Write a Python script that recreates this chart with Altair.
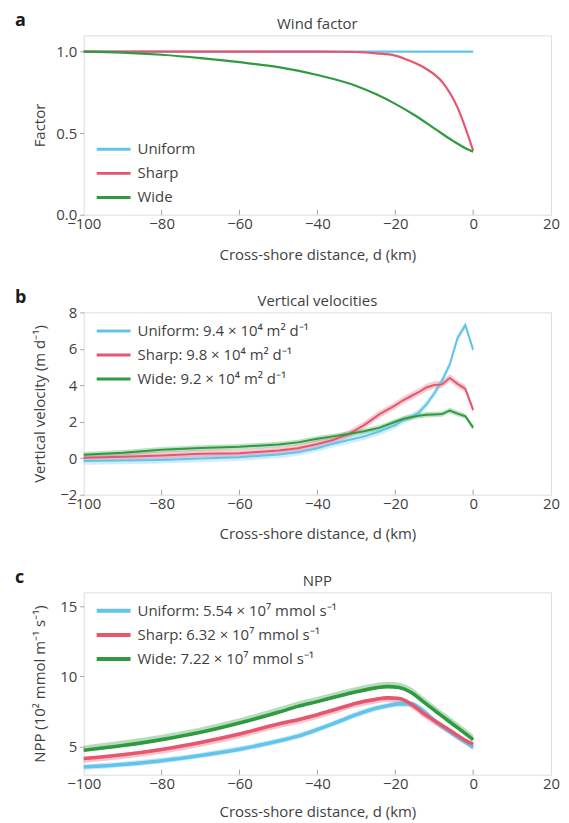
import altair as alt
import pandas as pd

SERIES = ["Uniform", "Sharp", "Wide"]
COLORS = ["#62c4ea", "#e5566f", "#2f9a40"]
FONT = "Open Sans"
TXT = "#3f3f3f"
FRAME = "#a3a3a3"

X_TICKS = [-100, -80, -60, -40, -20, 0, 20]
X_INNER_TICKS = [-80, -60, -40, -20, 0]
X_TITLE = "Cross-shore distance, d (km)"

# ---------- panel a : wind factor ----------
A_X_UNIFORM = [-100, -50, 0]
A_Y_UNIFORM = [1.0, 1.0, 1.0]
A_X_SHARP = [-100, -60, -40, -30, -25, -20, -17, -12.4, -7.8, -4, 0]
A_Y_SHARP = [1.0, 1.0, 1.0, 0.998, 0.99, 0.976, 0.951, 0.90, 0.81, 0.657, 0.393]
A_X_WIDE = [-100, -90, -80, -70, -60, -50, -40, -30, -25, -20, -15, -10, -5, -2, 0]
A_Y_WIDE = [1.0, 0.994, 0.981, 0.961, 0.936, 0.905, 0.857, 0.79, 0.74, 0.68, 0.61, 0.53, 0.45, 0.408, 0.386]
A_LABELS = ["Uniform", "Sharp", "Wide"]

# ---------- panel b : vertical velocities ----------
B_X = [-100, -90, -80, -70, -60, -50, -45, -40, -36, -32, -28, -24, -20, -18, -16, -14, -12, -10, -8, -6, -4, -2, 0]
B_UNIFORM = [-0.15, -0.13, -0.09, -0.02, 0.06, 0.2, 0.33, 0.55, 0.8, 1.0, 1.2, 1.48, 1.82, 2.08, 2.25, 2.5, 2.95, 3.55, 4.25, 5.15, 6.6, 7.3, 5.95]
B_SHARP = [0.03, 0.08, 0.15, 0.25, 0.28, 0.42, 0.55, 0.78, 1.0, 1.32, 1.82, 2.42, 2.9, 3.18, 3.4, 3.62, 3.88, 4.02, 4.05, 4.4, 4.08, 3.8, 2.65]
B_WIDE = [0.19, 0.3, 0.46, 0.56, 0.63, 0.75, 0.87, 1.07, 1.2, 1.33, 1.48, 1.68, 2.0, 2.15, 2.25, 2.33, 2.38, 2.4, 2.42, 2.62, 2.45, 2.3, 1.68]
B_BAND = {"Uniform": 0.2, "Sharp": 0.2, "Wide": 0.15}
B_LABELS = ["Uniform: 9.4 × 10⁴ m² d⁻¹", "Sharp: 9.8 × 10⁴ m² d⁻¹", "Wide: 9.2 × 10⁴ m² d⁻¹"]

# ---------- panel c : NPP ----------
C_X = [-100, -90, -80, -70, -60, -50, -45, -40, -35, -30, -25, -22, -19, -16, -13, -10, -7, -4, -2, 0]
C_UNIFORM = [3.55, 3.73, 4.0, 4.37, 4.82, 5.4, 5.75, 6.22, 6.74, 7.28, 7.73, 7.92, 8.05, 8.05, 7.6, 6.88, 6.25, 5.69, 5.33, 4.93]
C_SHARP = [4.15, 4.42, 4.8, 5.3, 5.9, 6.62, 6.92, 7.28, 7.68, 8.1, 8.37, 8.48, 8.43, 8.05, 7.42, 6.87, 6.34, 5.8, 5.45, 5.17]
C_WIDE = [4.74, 5.08, 5.5, 6.02, 6.68, 7.45, 7.87, 8.21, 8.57, 8.91, 9.19, 9.28, 9.21, 8.88, 8.25, 7.6, 6.97, 6.35, 5.93, 5.5]
C_BAND_LO = {"Uniform": 0.2, "Sharp": 0.3, "Wide": 0.1}
C_BAND_HI = {"Uniform": 0.2, "Sharp": 0.12, "Wide": 0.35}
C_LABELS = ["Uniform: 5.54 × 10⁷ mmol s⁻¹", "Sharp: 6.32 × 10⁷ mmol s⁻¹", "Wide: 7.22 × 10⁷ mmol s⁻¹"]

W = 469
H_A, H_B, H_C = 180, 183, 183
LETTER_X = -69

color_scale = alt.Scale(domain=SERIES, range=COLORS)


def long_df(xs_by_series, ys_by_series, lo=None, hi=None):
    rows = []
    for s in SERIES:
        for x, y in zip(xs_by_series[s], ys_by_series[s]):
            r = {"series": s, "x": x, "y": y, "order": SERIES.index(s)}
            if lo is not None:
                r["lo"] = y - lo[s]
                r["hi"] = y + hi[s]
            rows.append(r)
    return pd.DataFrame(rows)


def panel(df, has_band, ydomain, yvalues, yfmt, ytitle, height, title, letter,
          labels, leg_y0, leg_step, line_w, leg_w, interp, band_op, xtitle_y):
    xscale = alt.Scale(domain=[-100, 20], nice=False, zero=False)
    xaxis = alt.Axis(values=X_TICKS, title=X_TITLE, ticks=False, domain=False,
                     grid=False, labelPadding=2, labelFontSize=15,
                     labelFlush=False, labelOverlap=False,
                     titleFontSize=15, titleFontWeight="normal",
                     titleY=xtitle_y, titleBaseline="alphabetic",
                     labelColor=TXT, titleColor=TXT, labelFont=FONT, titleFont=FONT)
    yscale = alt.Scale(domain=ydomain, nice=False, zero=False)
    yaxis = alt.Axis(values=yvalues, format=yfmt, title=ytitle, ticks=True,
                     tickSize=4, tickColor=FRAME, domain=False, grid=False,
                     labelFlush=False, labelOverlap=False,
                     labelPadding=3, labelFontSize=15, titleFontSize=15,
                     titleFontWeight="normal", titleX=-39, titleY=height / 2,
                     titleAngle=270, titleAlign="center",
                     titleBaseline="alphabetic",
                     labelColor=TXT, titleColor=TXT, labelFont=FONT, titleFont=FONT)
    xs = alt.X("x:Q", scale=xscale, axis=xaxis)
    base = alt.Chart(df)
    layers = []
    if has_band:
        layers.append(base.mark_area(opacity=band_op, interpolate=interp).encode(
            x=xs, y=alt.Y("lo:Q", scale=yscale, axis=yaxis), y2="hi:Q",
            color=alt.Color("series:N", scale=color_scale, legend=None)))
    lines = base.mark_line(strokeWidth=line_w, interpolate=interp).encode(
        x=xs, y=alt.Y("y:Q", scale=yscale, axis=yaxis),
        color=alt.Color("series:N", scale=color_scale, legend=None),
        order="order:Q")
    layers.append(lines)
    ticks = alt.Chart(pd.DataFrame({"t": X_INNER_TICKS})).mark_rule(
        color=FRAME, strokeWidth=1).encode(
        x=alt.X("t:Q", scale=xscale, axis=xaxis), y=alt.value(height - 5), y2=alt.value(height))
    layers.append(ticks)
    data_layer = alt.layer(*layers)

    leg = pd.DataFrame({"series": SERIES, "label": labels, "rank": [0, 1, 2]})
    legbase = alt.Chart(leg).transform_calculate(ly=f"{leg_y0} + {leg_step} * datum.rank")
    leg_rule = legbase.mark_rule(strokeWidth=leg_w).encode(
        x=alt.value(13), x2=alt.value(47),
        y=alt.Y("ly:Q", scale=None, axis=None),
        color=alt.Color("series:N", scale=color_scale, legend=None))
    leg_text = legbase.mark_text(align="left", baseline="middle", fontSize=15,
                                 font=FONT, color=TXT).encode(
        x=alt.value(54), y=alt.Y("ly:Q", scale=None, axis=None), text="label:N")
    ttl = alt.Chart(pd.DataFrame({"t": [title]})).mark_text(
        align="center", baseline="alphabetic", fontSize=15, font=FONT, color=TXT).encode(
        x=alt.value(W / 2), y=alt.value(-6), text="t:N")
    let = alt.Chart(pd.DataFrame({"t": [letter]})).mark_text(
        align="left", baseline="alphabetic", fontSize=18, fontWeight="bold",
        font=FONT, color="#1a1a1a").encode(
        x=alt.value(LETTER_X), y=alt.value(-9), text="t:N")
    overlay = alt.layer(leg_rule, leg_text, ttl, let)
    return alt.layer(data_layer, overlay).resolve_scale(y="independent").properties(
        width=W, height=height)


df_a = long_df({"Uniform": A_X_UNIFORM, "Sharp": A_X_SHARP, "Wide": A_X_WIDE},
               {"Uniform": A_Y_UNIFORM, "Sharp": A_Y_SHARP, "Wide": A_Y_WIDE})
df_b = long_df({s: B_X for s in SERIES},
               {"Uniform": B_UNIFORM, "Sharp": B_SHARP, "Wide": B_WIDE},
               lo=B_BAND, hi=B_BAND)
df_c = long_df({s: C_X for s in SERIES},
               {"Uniform": C_UNIFORM, "Sharp": C_SHARP, "Wide": C_WIDE},
               lo=C_BAND_LO, hi=C_BAND_HI)

pa = panel(df_a, False, [0, 1.1], [0, 0.5, 1.0], ".1f", "Factor", H_A, "Wind factor", "a",
           A_LABELS, 114.3, 24.2, 2.2, 3, "monotone", 0.3, 45)
pb = panel(df_b, True, [-2, 8], [-2, 0, 2, 4, 6, 8], "d", "Vertical velocity (m d⁻¹)", H_B,
           "Vertical velocities", "b", B_LABELS, 18.8, 24, 2.0, 3, "linear", 0.3, 44)
pc = panel(df_c, True, [3, 16], [5, 10, 15], "d", "NPP (10² mmol m⁻¹ s⁻¹)", H_C, "NPP", "c",
           C_LABELS, 18.5, 24.2, 3.6, 4, "monotone", 0.35, 42)

chart = alt.vconcat(pa, pb, pc, spacing=98, bounds="flush").properties(
    padding={"left": 6, "top": 2, "right": 0, "bottom": 0}
).configure_view(stroke=FRAME, strokeWidth=1.3).configure(font=FONT)

chart.save("out.html", embed_options={"renderer": "svg", "actions": False})
